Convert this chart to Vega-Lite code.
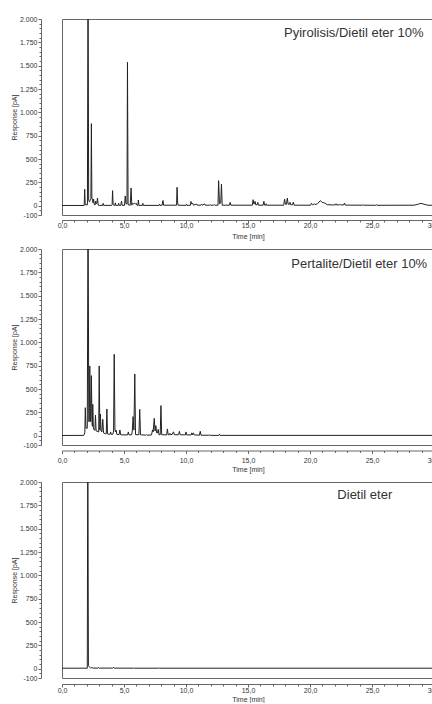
{
  "$schema": "https://vega.github.io/schema/vega-lite/v6.json",
  "padding": {"left": 9, "top": 14, "right": 0, "bottom": 0},
  "background": "white",
  "spacing": 4,
  "config": {
    "font": "Liberation Sans",
    "view": {"stroke": "#666", "strokeWidth": 1},
    "axis": {"labelFontSize": 7, "titleFontSize": 7, "titleFontWeight": "normal", "domainColor": "#666", "tickColor": "#666", "labelColor": "#333", "titleColor": "#333", "grid": false}
  },
  "datasets": {
    "p1": [
      {"t": 0, "v": 2}, {"t": 1.7, "v": 2},
      {"t": 1.79, "v": 3}, {"t": 1.83, "v": 176}, {"t": 1.87, "v": 10},
      {"t": 2.05, "v": 10}, {"t": 2.1, "v": 2600}, {"t": 2.15, "v": 60},
      {"t": 2.22, "v": 40}, {"t": 2.3, "v": 70}, {"t": 2.33, "v": 75}, {"t": 2.37, "v": 879}, {"t": 2.41, "v": 70},
      {"t": 2.45, "v": 70}, {"t": 2.5, "v": 30}, {"t": 2.55, "v": 70}, {"t": 2.6, "v": 10},
      {"t": 2.68, "v": 10}, {"t": 2.72, "v": 50}, {"t": 2.76, "v": 20}, {"t": 2.82, "v": 30}, {"t": 2.86, "v": 82}, {"t": 2.92, "v": 5},
      {"t": 3.0, "v": 3}, {"t": 3.28, "v": 3}, {"t": 3.32, "v": 25}, {"t": 3.36, "v": 3},
      {"t": 4.0, "v": 3}, {"t": 4.04, "v": 10}, {"t": 4.08, "v": 161}, {"t": 4.12, "v": 10}, {"t": 4.2, "v": 3},
      {"t": 4.26, "v": 3}, {"t": 4.3, "v": 30}, {"t": 4.34, "v": 3},
      {"t": 4.53, "v": 3}, {"t": 4.57, "v": 25}, {"t": 4.61, "v": 3}, {"t": 4.74, "v": 3}, {"t": 4.8, "v": 50}, {"t": 4.86, "v": 3},
      {"t": 5.04, "v": 3}, {"t": 5.1, "v": 104}, {"t": 5.16, "v": 20}, {"t": 5.24, "v": 20}, {"t": 5.28, "v": 1536}, {"t": 5.33, "v": 10},
      {"t": 5.5, "v": 5}, {"t": 5.57, "v": 190}, {"t": 5.63, "v": 5}, {"t": 5.7, "v": 25}, {"t": 5.78, "v": 20}, {"t": 5.86, "v": 25}, {"t": 5.94, "v": 20}, {"t": 6.0, "v": 25}, {"t": 6.05, "v": 3},
      {"t": 6.12, "v": 3}, {"t": 6.16, "v": 61}, {"t": 6.2, "v": 3}, {"t": 6.48, "v": 3}, {"t": 6.52, "v": 25}, {"t": 6.56, "v": 3},
      {"t": 7.83, "v": 3}, {"t": 7.87, "v": 15}, {"t": 7.91, "v": 3}, {"t": 8.08, "v": 5}, {"t": 8.12, "v": 50}, {"t": 8.15, "v": 55}, {"t": 8.19, "v": 5},
      {"t": 9.24, "v": 5}, {"t": 9.28, "v": 197}, {"t": 9.32, "v": 40}, {"t": 9.36, "v": 5},
      {"t": 10.0, "v": 3}, {"t": 10.04, "v": 15}, {"t": 10.08, "v": 3}, {"t": 10.36, "v": 5}, {"t": 10.4, "v": 45}, {"t": 10.45, "v": 20}, {"t": 10.55, "v": 25}, {"t": 10.6, "v": 5},
      {"t": 10.85, "v": 18}, {"t": 10.9, "v": 5}, {"t": 11.2, "v": 5}, {"t": 11.25, "v": 15}, {"t": 11.3, "v": 5}, {"t": 11.5, "v": 18}, {"t": 11.55, "v": 5},
      {"t": 11.9, "v": 5}, {"t": 11.95, "v": 10}, {"t": 12.0, "v": 5}, {"t": 12.25, "v": 5}, {"t": 12.3, "v": 10}, {"t": 12.35, "v": 5},
      {"t": 12.58, "v": 5}, {"t": 12.63, "v": 268}, {"t": 12.7, "v": 20}, {"t": 12.8, "v": 30}, {"t": 12.86, "v": 232}, {"t": 12.92, "v": 5},
      {"t": 13.5, "v": 5}, {"t": 13.56, "v": 35}, {"t": 13.62, "v": 5},
      {"t": 15.35, "v": 5}, {"t": 15.41, "v": 64}, {"t": 15.46, "v": 20}, {"t": 15.52, "v": 20}, {"t": 15.57, "v": 46}, {"t": 15.62, "v": 10}, {"t": 15.74, "v": 10}, {"t": 15.79, "v": 36}, {"t": 15.84, "v": 5},
      {"t": 16.22, "v": 5}, {"t": 16.28, "v": 46}, {"t": 16.34, "v": 5}, {"t": 16.42, "v": 5}, {"t": 16.46, "v": 20}, {"t": 16.5, "v": 5},
      {"t": 17.88, "v": 5}, {"t": 17.95, "v": 71}, {"t": 18.02, "v": 15}, {"t": 18.1, "v": 15}, {"t": 18.17, "v": 81}, {"t": 18.24, "v": 15}, {"t": 18.34, "v": 15}, {"t": 18.39, "v": 36}, {"t": 18.44, "v": 10}, {"t": 18.6, "v": 10}, {"t": 18.66, "v": 39}, {"t": 18.72, "v": 5},
      {"t": 20.05, "v": 5}, {"t": 20.12, "v": 25}, {"t": 20.2, "v": 10}, {"t": 20.28, "v": 10}, {"t": 20.34, "v": 21}, {"t": 20.4, "v": 12}, {"t": 20.6, "v": 20}, {"t": 20.83, "v": 53}, {"t": 21.0, "v": 35}, {"t": 21.15, "v": 30}, {"t": 21.4, "v": 10}, {"t": 21.8, "v": 8},
      {"t": 22.05, "v": 8}, {"t": 22.1, "v": 21}, {"t": 22.15, "v": 8}, {"t": 22.35, "v": 8}, {"t": 22.4, "v": 15}, {"t": 22.45, "v": 8}, {"t": 22.72, "v": 8}, {"t": 22.78, "v": 28}, {"t": 22.84, "v": 6},
      {"t": 24.2, "v": 5}, {"t": 24.27, "v": 10}, {"t": 24.33, "v": 5}, {"t": 25.3, "v": 4}, {"t": 25.35, "v": 10}, {"t": 25.4, "v": 4},
      {"t": 28.4, "v": 5}, {"t": 28.7, "v": 15}, {"t": 28.96, "v": 25}, {"t": 29.2, "v": 15}, {"t": 29.5, "v": 5}, {"t": 30, "v": 4}
    ],
    "p2": [
      {"t": 0, "v": 2}, {"t": 1.75, "v": 3}, {"t": 1.84, "v": 30}, {"t": 1.88, "v": 300}, {"t": 1.93, "v": 80}, {"t": 2.04, "v": 80}, {"t": 2.1, "v": 2600}, {"t": 2.16, "v": 150},
      {"t": 2.2, "v": 150}, {"t": 2.24, "v": 747}, {"t": 2.3, "v": 150}, {"t": 2.33, "v": 200}, {"t": 2.37, "v": 643}, {"t": 2.42, "v": 150}, {"t": 2.45, "v": 100}, {"t": 2.48, "v": 336}, {"t": 2.53, "v": 80},
      {"t": 2.6, "v": 60}, {"t": 2.65, "v": 60}, {"t": 2.7, "v": 221}, {"t": 2.75, "v": 50}, {"t": 2.85, "v": 50}, {"t": 2.9, "v": 40}, {"t": 2.96, "v": 40}, {"t": 3.0, "v": 747}, {"t": 3.05, "v": 60},
      {"t": 3.1, "v": 232}, {"t": 3.15, "v": 50}, {"t": 3.22, "v": 40}, {"t": 3.29, "v": 175}, {"t": 3.35, "v": 30}, {"t": 3.5, "v": 20}, {"t": 3.57, "v": 20}, {"t": 3.62, "v": 286}, {"t": 3.67, "v": 20},
      {"t": 3.8, "v": 15}, {"t": 3.88, "v": 15}, {"t": 3.92, "v": 40}, {"t": 3.96, "v": 15}, {"t": 4.1, "v": 15}, {"t": 4.16, "v": 50}, {"t": 4.21, "v": 872}, {"t": 4.27, "v": 60}, {"t": 4.32, "v": 40}, {"t": 4.36, "v": 60}, {"t": 4.42, "v": 15},
      {"t": 4.6, "v": 10}, {"t": 4.67, "v": 61}, {"t": 4.73, "v": 10}, {"t": 5.0, "v": 8}, {"t": 5.29, "v": 8}, {"t": 5.35, "v": 40}, {"t": 5.41, "v": 8},
      {"t": 5.62, "v": 10}, {"t": 5.67, "v": 50}, {"t": 5.73, "v": 204}, {"t": 5.8, "v": 60}, {"t": 5.87, "v": 661}, {"t": 5.93, "v": 10}, {"t": 6.2, "v": 10}, {"t": 6.27, "v": 282}, {"t": 6.33, "v": 10},
      {"t": 6.75, "v": 5}, {"t": 6.8, "v": 12}, {"t": 6.85, "v": 5}, {"t": 7.22, "v": 8}, {"t": 7.3, "v": 62}, {"t": 7.35, "v": 40}, {"t": 7.44, "v": 186}, {"t": 7.5, "v": 50}, {"t": 7.57, "v": 107}, {"t": 7.63, "v": 30},
      {"t": 7.7, "v": 30}, {"t": 7.76, "v": 68}, {"t": 7.82, "v": 10}, {"t": 7.92, "v": 10}, {"t": 7.98, "v": 322}, {"t": 8.04, "v": 10}, {"t": 8.44, "v": 8}, {"t": 8.5, "v": 72}, {"t": 8.56, "v": 10},
      {"t": 8.66, "v": 10}, {"t": 8.7, "v": 25}, {"t": 8.76, "v": 10}, {"t": 8.9, "v": 15}, {"t": 8.95, "v": 35}, {"t": 9.0, "v": 40}, {"t": 9.06, "v": 10}, {"t": 9.4, "v": 10}, {"t": 9.47, "v": 47}, {"t": 9.53, "v": 10},
      {"t": 9.95, "v": 8}, {"t": 10.0, "v": 40}, {"t": 10.06, "v": 8}, {"t": 10.42, "v": 8}, {"t": 10.47, "v": 30}, {"t": 10.53, "v": 8}, {"t": 10.6, "v": 30}, {"t": 10.66, "v": 8},
      {"t": 11.08, "v": 5}, {"t": 11.15, "v": 47}, {"t": 11.21, "v": 5}, {"t": 11.85, "v": 4}, {"t": 11.9, "v": 8}, {"t": 11.95, "v": 3}, {"t": 12.65, "v": 3}, {"t": 12.7, "v": 15}, {"t": 12.75, "v": 3},
      {"t": 20, "v": 3}, {"t": 30, "v": 3}
    ],
    "p3": [
      {"t": 0, "v": 5}, {"t": 2.04, "v": 5}, {"t": 2.08, "v": 2600}, {"t": 2.13, "v": 30}, {"t": 2.2, "v": 20}, {"t": 2.3, "v": 8}, {"t": 2.4, "v": 12}, {"t": 2.5, "v": 6},
      {"t": 2.9, "v": 6}, {"t": 2.95, "v": 12}, {"t": 3.0, "v": 6}, {"t": 4.1, "v": 6}, {"t": 4.15, "v": 14}, {"t": 4.2, "v": 6},
      {"t": 5.75, "v": 5}, {"t": 5.8, "v": 9}, {"t": 5.85, "v": 5}, {"t": 7.8, "v": 5}, {"t": 7.85, "v": 7}, {"t": 7.9, "v": 5}, {"t": 30, "v": 5}
    ]
  },
  "vconcat": [
    {
      "width": 372, "height": 196,
      "resolve": {"axis": {"x": "independent", "y": "independent"}},
      "layer": [
        {
          "data": {"name": "p1"},
          "mark": {"type": "line", "clip": true, "color": "#222", "strokeWidth": 1},
          "encoding": {
            "x": {"field": "t", "type": "quantitative", "scale": {"domain": [0, 30], "nice": false, "zero": false},
              "axis": {"title": "Time [min]", "orient": "bottom", "values": [0,5,10,15,20,25,30], "labelExpr": "replace(format(datum.value, '.1f'), '.', ',')", "offset": 5, "tickSize": 3, "labelPadding": -1.5, "titlePadding": 3.5, "labelFlush": false}},
            "y": {"field": "v", "type": "quantitative", "scale": {"domain": [-100, 2000], "nice": false, "zero": false},
              "axis": {"title": "Response [pA]", "orient": "left", "values": [-100,0,250,500,750,1000,1250,1500,1750,2000], "labelExpr": "replace(replace(format(datum.value, ','), ',', '.'), '\u2212', '-')", "offset": 21, "tickSize": 3, "labelPadding": 1, "titlePadding": 2, "labelFlush": false}}
          }
        },
        {
          "data": {"values": [{"label": "Pyirolisis/Dietil eter 10%", "t": 29.15, "v": 1845}]},
          "mark": {"type": "text", "align": "right", "baseline": "middle", "fontSize": 13, "color": "#333"},
          "encoding": {"x": {"field": "t", "type": "quantitative", "axis": {"orient": "bottom", "title": null, "labels": false, "domain": false, "values": [1,2,3,4,6,7,8,9,11,12,13,14,16,17,18,19,21,22,23,24,26,27,28,29], "tickSize": 2, "offset": 5}},
            "y": {"field": "v", "type": "quantitative", "axis": {"orient": "left", "title": null, "labels": false, "domain": false, "values": [-50,50,100,150,200,300,350,400,450,550,600,650,700,800,850,900,950,1050,1100,1150,1200,1300,1350,1400,1450,1550,1600,1650,1700,1800,1850,1900,1950], "tickSize": 2, "offset": 21}},
            "text": {"field": "label"}}
        }
      ]
    },
    {
      "width": 372, "height": 196,
      "resolve": {"axis": {"x": "independent", "y": "independent"}},
      "layer": [
        {
          "data": {"name": "p2"},
          "mark": {"type": "line", "clip": true, "color": "#222", "strokeWidth": 1},
          "encoding": {
            "x": {"field": "t", "type": "quantitative", "scale": {"domain": [0, 30], "nice": false, "zero": false},
              "axis": {"title": "Time [min]", "orient": "bottom", "values": [0,5,10,15,20,25,30], "labelExpr": "replace(format(datum.value, '.1f'), '.', ',')", "offset": 5.5, "tickSize": 3, "labelPadding": 2.8, "titlePadding": 2, "labelFlush": false}},
            "y": {"field": "v", "type": "quantitative", "scale": {"domain": [-100, 2000], "nice": false, "zero": false},
              "axis": {"title": "Response [pA]", "orient": "left", "values": [-100,0,250,500,750,1000,1250,1500,1750,2000], "labelExpr": "replace(replace(format(datum.value, ','), ',', '.'), '\u2212', '-')", "offset": 21, "tickSize": 3, "labelPadding": 1, "titlePadding": 2, "labelFlush": false}}
          }
        },
        {
          "data": {"values": [{"label": "Pertalite/Dietil eter 10%", "t": 29.45, "v": 1842}]},
          "mark": {"type": "text", "align": "right", "baseline": "middle", "fontSize": 13, "color": "#333"},
          "encoding": {"x": {"field": "t", "type": "quantitative", "axis": {"orient": "bottom", "title": null, "labels": false, "domain": false, "values": [1,2,3,4,6,7,8,9,11,12,13,14,16,17,18,19,21,22,23,24,26,27,28,29], "tickSize": 2, "offset": 5.5}},
            "y": {"field": "v", "type": "quantitative", "axis": {"orient": "left", "title": null, "labels": false, "domain": false, "values": [-50,50,100,150,200,300,350,400,450,550,600,650,700,800,850,900,950,1050,1100,1150,1200,1300,1350,1400,1450,1550,1600,1650,1700,1800,1850,1900,1950], "tickSize": 2, "offset": 21}},
            "text": {"field": "label"}}
        }
      ]
    },
    {
      "width": 372, "height": 196,
      "resolve": {"axis": {"x": "independent", "y": "independent"}},
      "layer": [
        {
          "data": {"name": "p3"},
          "mark": {"type": "line", "clip": true, "color": "#222", "strokeWidth": 1},
          "encoding": {
            "x": {"field": "t", "type": "quantitative", "scale": {"domain": [0, 30], "nice": false, "zero": false},
              "axis": {"title": "Time [min]", "orient": "bottom", "values": [0,5,10,15,20,25,30], "labelExpr": "replace(format(datum.value, '.1f'), '.', ',')", "offset": 6, "tickSize": 3, "labelPadding": -0.5, "titlePadding": 2, "labelFlush": false}},
            "y": {"field": "v", "type": "quantitative", "scale": {"domain": [-100, 2000], "nice": false, "zero": false},
              "axis": {"title": "Response [pA]", "orient": "left", "values": [-100,0,250,500,750,1000,1250,1500,1750,2000], "labelExpr": "replace(replace(format(datum.value, ','), ',', '.'), '\u2212', '-')", "offset": 21, "tickSize": 3, "labelPadding": 1, "titlePadding": 2, "labelFlush": false}}
          }
        },
        {
          "data": {"values": [{"label": "Dietil eter", "t": 24.42, "v": 1860}]},
          "mark": {"type": "text", "align": "center", "baseline": "middle", "fontSize": 13, "color": "#333"},
          "encoding": {"x": {"field": "t", "type": "quantitative", "axis": {"orient": "bottom", "title": null, "labels": false, "domain": false, "values": [1,2,3,4,6,7,8,9,11,12,13,14,16,17,18,19,21,22,23,24,26,27,28,29], "tickSize": 2, "offset": 6}},
            "y": {"field": "v", "type": "quantitative", "axis": {"orient": "left", "title": null, "labels": false, "domain": false, "values": [-50,50,100,150,200,300,350,400,450,550,600,650,700,800,850,900,950,1050,1100,1150,1200,1300,1350,1400,1450,1550,1600,1650,1700,1800,1850,1900,1950], "tickSize": 2, "offset": 21}},
            "text": {"field": "label"}}
        }
      ]
    }
  ]
}
